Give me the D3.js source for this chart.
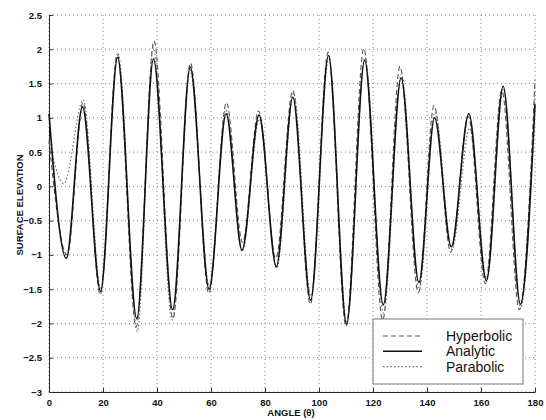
<!DOCTYPE html>
<html>
<head>
<meta charset="utf-8">
<script src="https://cdn.jsdelivr.net/npm/d3@7"></script>
<style>
  body { margin: 0; background: #fff; }
  svg { display: block; font-family: "Liberation Sans", Arial, sans-serif; }
</style>
</head>
<body>
<svg id="chart"></svg>
<script>
// dati: picchi e avvallamenti di ogni serie (angolo, elevazione)
const analyticAngle = [0, 6.4, 12.4, 19.1, 25.4, 32.5, 38.7, 45.8, 52.3, 59.3, 65.6, 71.5, 77.8, 84.2, 90.3, 96.9, 103.5, 110.2, 116.9, 123.8, 130.4, 137.0, 142.8, 149.0, 155.5, 162.0, 168.2, 174.6, 180];
const analyticValue = [1.06, -1.05, 1.16, -1.53, 1.88, -1.93, 1.86, -1.80, 1.74, -1.50, 1.06, -0.93, 1.04, -1.17, 1.30, -1.66, 1.91, -2.01, 1.84, -1.73, 1.58, -1.40, 1.00, -0.88, 1.06, -1.38, 1.46, -1.72, 1.20];

const hyperbolicAngle = [0, 6.7, 12.6, 19.0, 25.3, 32.3, 38.9, 45.9, 52.4, 59.2, 65.7, 71.7, 77.6, 84.0, 90.3, 96.8, 103.4, 110.0, 116.6, 123.6, 130.0, 136.8, 142.6, 148.8, 155.3, 161.6, 167.7, 174.2, 180];
const hyperbolicValue = [0.66, -1.00, 1.22, -1.58, 1.92, -2.05, 2.12, -1.93, 1.80, -1.56, 1.22, -0.82, 1.10, -1.05, 1.40, -1.72, 1.96, -2.04, 2.01, -1.95, 1.75, -1.55, 1.18, -0.96, 1.02, -1.42, 1.40, -1.80, 1.55];

const parabolicAngle = [0, 5.5, 12.7, 19.2, 25.5, 32.7, 38.6, 45.6, 52.2, 59.4, 65.5, 71.5, 77.9, 84.3, 90.6, 97.0, 103.6, 110.3, 117.0, 123.9, 130.5, 137.1, 143.0, 149.2, 155.8, 162.1, 168.3, 174.7, 180];
const parabolicValue = [0.67, 0.04, 1.26, -1.50, 1.95, -2.12, 2.02, -1.95, 1.70, -1.45, 1.12, -0.95, 0.98, -1.20, 1.36, -1.60, 1.86, -1.97, 1.88, -1.85, 1.64, -1.50, 1.08, -0.92, 0.85, -1.35, 1.42, -1.76, 1.40];

const xTicks = [0, 20, 40, 60, 80, 100, 120, 140, 160, 180];
const yTicks = [-3, -2.5, -2, -1.5, -1, -0.5, 0, 0.5, 1, 1.5, 2, 2.5];
const legendNames = ["Hyperbolic", "Analytic", "Parabolic"];

let width = 546;
let height = 420;
const margin = {top: 15, right: 11, bottom: 28, left: 49};

const svg = d3.select("#chart")
  .attr("width", width)
  .attr("height", height);

const x = d3.scaleLinear().domain([0, 180]).range([margin.left, width - margin.right]);
const y = d3.scaleLinear().domain([-3, 2.5]).range([height - margin.bottom, margin.top]);

// griglia punteggiata
const grid = svg.append("g")
  .attr("stroke", "#666")
  .attr("stroke-width", 0.8)
  .attr("stroke-dasharray", "1,3");

grid.selectAll("line.gx")
  .data(xTicks)
  .join("line")
  .attr("class", "gx")
  .attr("x1", d => x(d)).attr("x2", d => x(d))
  .attr("y1", y(-3)).attr("y2", y(2.5));

grid.selectAll("line.gy")
  .data(yTicks)
  .join("line")
  .attr("class", "gy")
  .attr("x1", x(0)).attr("x2", x(180))
  .attr("y1", d => y(d)).attr("y2", d => y(d));

// assi (tick verso l'interno, stile matlab)
const xAxis = svg.append("g")
  .attr("transform", `translate(0,${y(-3)})`)
  .call(d3.axisBottom(x).tickValues(xTicks).tickSizeInner(-4).tickSizeOuter(0).tickPadding(7));

const yAxis = svg.append("g")
  .attr("transform", `translate(${x(0)},0)`)
  .call(d3.axisLeft(y).tickValues(yTicks).tickSizeInner(-4).tickSizeOuter(0).tickPadding(7).tickFormat(d3.format("")));

[xAxis, yAxis].forEach(a => {
  a.select(".domain").attr("stroke", "#222").attr("stroke-width", 1);
  a.selectAll(".tick line").attr("stroke", "#333");
  a.selectAll(".tick text")
    .attr("fill", "#111")
    .style("font-size", "9.5px")
    .style("font-weight", "bold");
});

// le serie: curve che passano per picchi e avvallamenti
const series = [
  {name: "Hyperbolic", angle: hyperbolicAngle, value: hyperbolicValue, stroke: "#555", width: 1.1, dash: "5,3"},
  {name: "Parabolic", angle: parabolicAngle, value: parabolicValue, stroke: "#666", width: 1.1, dash: "1.5,2.2"},
  {name: "Analytic", angle: analyticAngle, value: analyticValue, stroke: "#111", width: 1.6, dash: null}
];

const line = d3.line()
  .x(d => x(d[0]))
  .y(d => y(d[1]))
  .curve(d3.curveMonotoneX);

svg.append("g")
  .selectAll("path")
  .data(series)
  .join("path")
  .attr("fill", "none")
  .attr("stroke", d => d.stroke)
  .attr("stroke-width", d => d.width)
  .attr("stroke-dasharray", d => d.dash)
  .attr("d", d => line(d.angle.map((a, i) => [a, d.value[i]])));

// etichette assi
svg.append("text")
  .attr("x", 291)
  .attr("y", 416)
  .attr("text-anchor", "middle")
  .style("font-size", "9.5px")
  .style("font-weight", "bold")
  .attr("fill", "#111")
  .text("ANGLE (θ)");

svg.append("text")
  .attr("transform", "translate(23,205) rotate(-90)")
  .attr("text-anchor", "middle")
  .style("font-size", "9.5px")
  .style("font-weight", "bold")
  .attr("fill", "#111")
  .text("SURFACE ELEVATION");

// legenda
const legend = svg.append("g");

legend.append("rect")
  .attr("x", 373).attr("y", 319)
  .attr("width", 150).attr("height", 65)
  .attr("fill", "#fff")
  .attr("stroke", "#777")
  .attr("stroke-width", 1);

const styleOf = name => series.find(s => s.name === name);

const entry = legend.selectAll("g.entry")
  .data(legendNames)
  .join("g")
  .attr("class", "entry")
  .attr("transform", (d, i) => `translate(0,${336 + i * 15.3})`);

entry.append("line")
  .attr("x1", 383).attr("x2", 422)
  .attr("stroke", d => styleOf(d).stroke)
  .attr("stroke-width", d => styleOf(d).width)
  .attr("stroke-dasharray", d => styleOf(d).dash);

entry.append("text")
  .attr("x", 446)
  .attr("dy", 5)
  .style("font-size", "14px")
  .attr("fill", "#111")
  .text(d => d);
</script>
</body>
</html>
